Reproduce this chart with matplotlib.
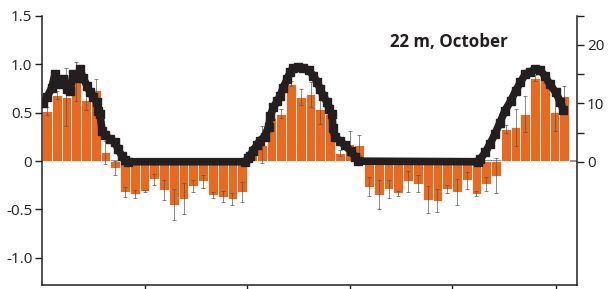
import numpy as np
import matplotlib
matplotlib.use("Agg")
import matplotlib.pyplot as plt

plt.rcParams['font.family'] = ['Open Sans', 'DejaVu Sans']

# Hourly flux (left axis) with error bars
flux = [0.52, 0.68, 0.66, 0.82, 0.63, 0.73, 0.09, -0.07, -0.32, -0.34,
        -0.31, -0.19, -0.30, -0.45, -0.39, -0.255, -0.21, -0.35, -0.37, -0.39,
        -0.32, 0.10, 0.17, 0.44, 0.49, 0.80, 0.665, 0.69, 0.54, 0.49,
        0.08, 0.18, 0.165, -0.265, -0.35, -0.29, -0.335, -0.21, -0.235, -0.40,
        -0.41, -0.29, -0.32, -0.20, -0.34, -0.235, -0.15, 0.33, 0.35, 0.486,
        0.86, 0.84, 0.51, 0.67]
flux_err = [0.04, 0.04, 0.30, 0.20, 0.10, 0.12, 0.12, 0.07, 0.05, 0.04,
            0.01, 0.06, 0.10, 0.16, 0.16, 0.06, 0.067, 0.03, 0.057, 0.06,
            0.107, 0.05, 0.195, 0.05, 0.05, 0.03, 0.083, 0.13, 0.16, 0.10,
            0.03, 0.13, 0.10, 0.10, 0.15, 0.09, 0.026, 0.11, 0.09, 0.14,
            0.12, 0.04, 0.13, 0.085, 0.026, 0.07, 0.18, 0.04, 0.19, 0.19,
            0.03, 0.03, 0.20, 0.10]

# Light curve (right axis)
light_t = [0.1, 0.5, 1.0, 1.33, 1.84, 2.15, 2.56, 2.87, 3.18, 3.59,
           3.89, 4.2, 4.61, 4.92, 5.23, 5.64, 5.74, 5.94, 6.15, 6.45,
           6.97, 7.48, 7.79, 8.2, 8.5, 8.8, 20.8, 21.1, 21.3, 21.6,
           22.0, 22.3, 22.8, 23.2, 23.4, 23.7, 24.1, 24.4, 24.7, 25.1,
           25.4, 25.7, 26.2, 26.7, 27.3, 27.8, 28.2, 28.5, 28.8, 29.2,
           29.4, 29.7, 29.8, 30.0, 30.5, 31.0, 31.6, 32.1, 32.4, 44.7,
           44.9, 45.4, 45.9, 46.4, 46.9, 47.4, 48.0, 48.5, 49.0, 49.5,
           50.0, 50.5, 51.0, 51.5, 52.0, 52.6, 53.1, 53.4]
light = [10.1, 11.0, 12.7, 15.0, 13.3, 14.1, 12.4, 12.1, 15.0, 14.4,
         15.8, 14.4, 13.0, 11.9, 11.0, 10.2, 8.7, 8.2, 5.3, 4.5,
         3.9, 3.3, 2.2, 0.9, 0.3, 0.0, 0.0, 0.6, 0.9, 1.9,
         2.8, 3.6, 4.3, 6.0, 7.9, 9.3, 10.4, 11.3, 12.7, 14.1,
         15.3, 16.0, 16.2, 16.1, 15.7, 14.7, 13.6, 12.4, 11.3, 10.2,
         9.0, 8.2, 5.8, 4.2, 3.6, 2.8, 1.9, 0.8, 0.1, 0.0,
         0.5, 1.6, 3.1, 4.8, 6.7, 8.7, 10.4, 12.1, 13.6, 15.0,
         15.4, 15.8, 15.7, 14.7, 13.3, 11.9, 10.2, 8.9]

left_ticks = [-1.0, -0.5, 0, 0.5, 1.0, 1.5]
left_labels = ["-1.0", "-0.5", "0", "0.5", "1.0", "1.5"]
right_ticks = [0, 10, 20]
x_ticks = [10.5, 21, 31.5, 42, 52.6]
label = "22 m, October"

orange = "#e8691f"
dark = "#231f20"

fig = plt.figure(figsize=(6.15, 2.89), dpi=100)
ax = fig.add_axes([0.0683, 0.0138, 0.8700, 0.9319])
hours = np.arange(len(flux)) + 0.5

ax.axhline(0, color="#808080", lw=1.2, zorder=0.5)
ax.bar(hours, flux, width=1.0, color=orange, edgecolor="white", linewidth=0.6, zorder=1)
ax.errorbar(hours, flux, yerr=flux_err, fmt="none", ecolor="#555555", elinewidth=0.7,
            capsize=1.2, capthick=0.7, alpha=0.7, zorder=2)

ax.set_xlim(0, 54.8)
ax.set_ylim(-1.28, 1.5)
ax.set_yticks(left_ticks)
ax.set_yticklabels(left_labels)
ax.set_xticks(x_ticks)
ax.set_xticklabels([])
ax.spines["top"].set_visible(False)
ax.spines["right"].set_visible(False)
for s in ["left", "bottom"]:
    ax.spines[s].set_color(dark)
    ax.spines[s].set_linewidth(1.1)
ax.tick_params(axis="both", direction="out", length=5, width=1.0, color=dark,
               labelcolor=dark, labelsize=11, pad=2)

# light on the right axis, thick black squares
ax2 = ax.twinx()
ax2.plot(light_t, light, color=dark, lw=5.5, marker="s", markersize=6.3,
         solid_joinstyle="bevel", solid_capstyle="butt", zorder=3)
ax2.set_ylim(-21.1, 25)
ax2.set_yticks(right_ticks)
ax2.set_yticks([5, 15, 25], minor=True)
for s in ["top", "left", "bottom"]:
    ax2.spines[s].set_visible(False)
ax2.spines["right"].set_color(dark)
ax2.spines["right"].set_linewidth(1.1)
ax2.tick_params(axis="y", which="both", direction="out", length=5, width=1.0,
                color=dark, labelcolor=dark, labelsize=11, pad=2)

ax.text(0.761, 0.902, label, transform=ax.transAxes, ha="center", va="center",
        fontsize=12.2, fontweight="bold", color=dark)

fig.savefig("out.png", dpi=100)
